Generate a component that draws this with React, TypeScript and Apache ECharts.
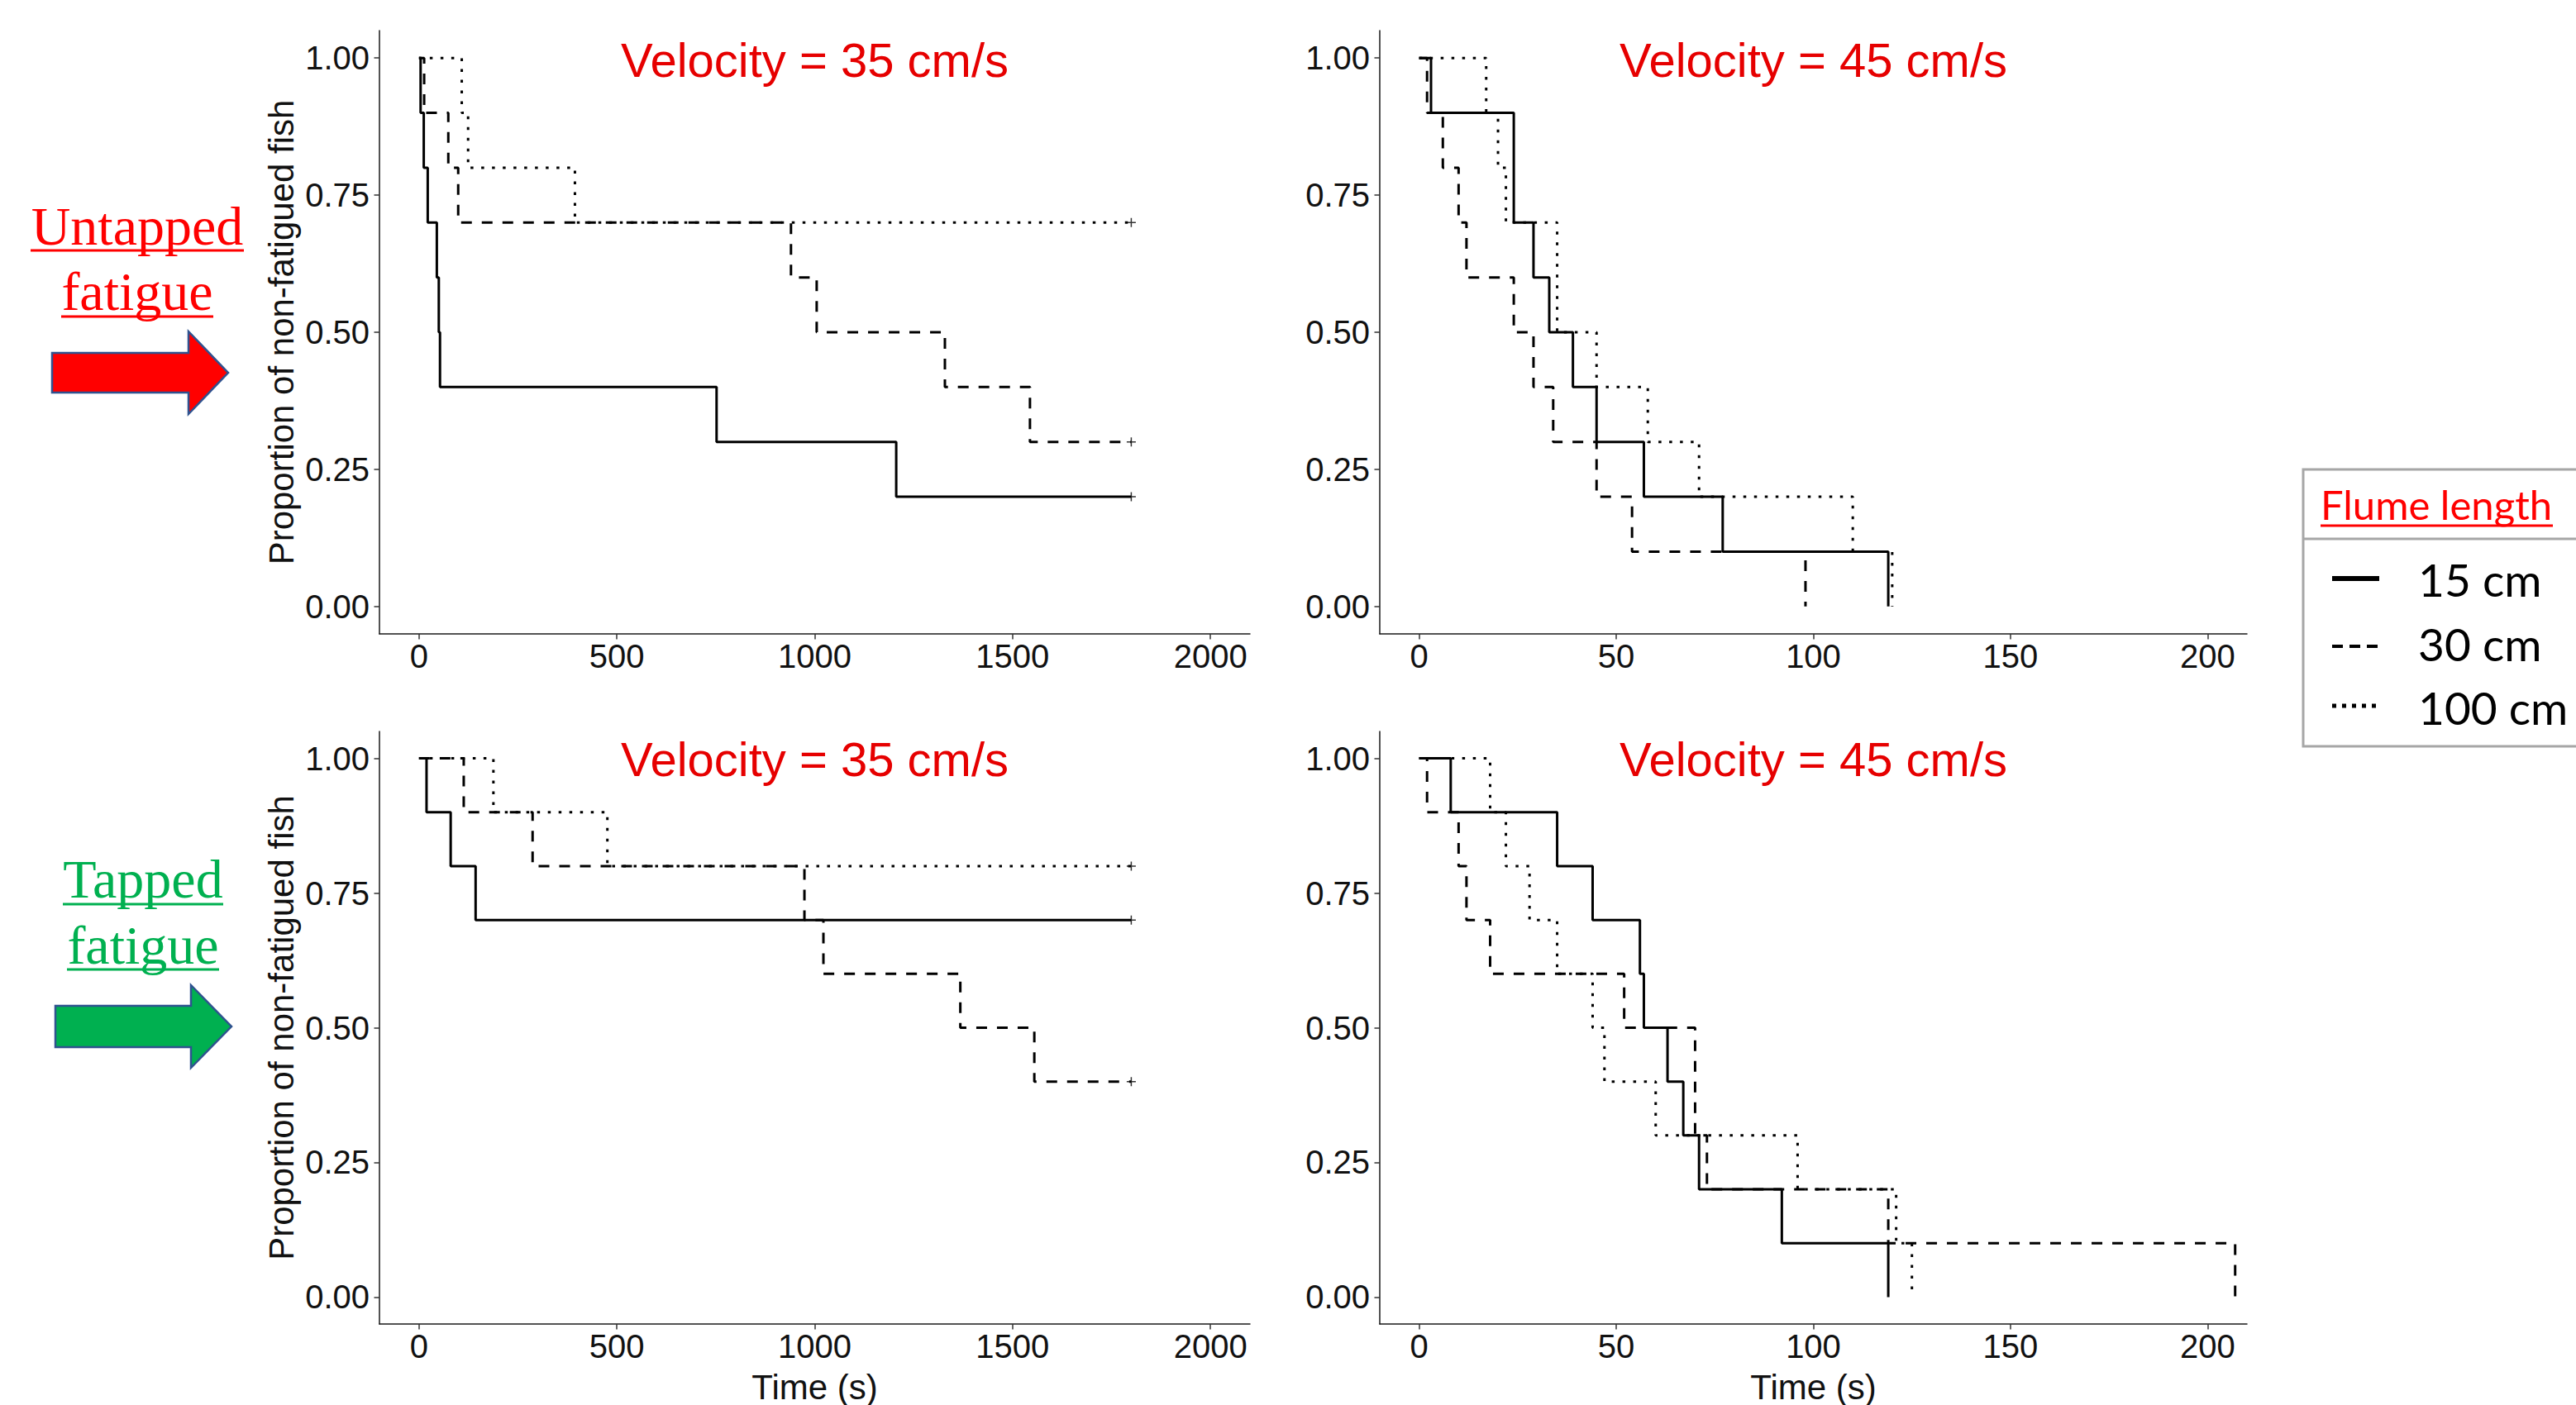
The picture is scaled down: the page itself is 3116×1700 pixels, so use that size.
import React, { useEffect, useRef } from "react";
import * as echarts from "echarts";

// ---------- DATA (Kaplan–Meier step points: time in s, proportion of non-fatigued fish) ----------
// Untapped fatigue, velocity 35 cm/s
const untapped35_15cm_time = [0, 4, 12, 22, 45, 50, 53, 752, 1206, 1800];
const untapped35_15cm_prop = [1, 0.9, 0.8, 0.7, 0.6, 0.5, 0.4, 0.3, 0.2, 0.2];
const untapped35_30cm_time = [0, 13, 74, 99, 940, 1005, 1329, 1544, 1800];
const untapped35_30cm_prop = [1, 0.9, 0.8, 0.7, 0.6, 0.5, 0.4, 0.3, 0.3];
const untapped35_100cm_time = [0, 108, 124, 394, 1800];
const untapped35_100cm_prop = [1, 0.9, 0.8, 0.7, 0.7];

// Untapped fatigue, velocity 45 cm/s
const untapped45_15cm_time = [0, 3, 24, 29, 33, 39, 45, 57, 77, 119];
const untapped45_15cm_prop = [1, 0.9, 0.7, 0.6, 0.5, 0.4, 0.3, 0.2, 0.1, 0];
const untapped45_30cm_time = [0, 2, 6, 10, 12, 24, 29, 34, 45, 54, 98];
const untapped45_30cm_prop = [1, 0.9, 0.8, 0.7, 0.6, 0.5, 0.4, 0.3, 0.2, 0.1, 0];
const untapped45_100cm_time = [0, 17, 20, 22, 35, 45, 58, 71, 110, 120];
const untapped45_100cm_prop = [1, 0.9, 0.8, 0.7, 0.5, 0.4, 0.3, 0.2, 0.1, 0];

// Tapped fatigue, velocity 35 cm/s
const tapped35_15cm_time = [0, 19, 80, 143, 1800];
const tapped35_15cm_prop = [1, 0.9, 0.8, 0.7, 0.7];
const tapped35_30cm_time = [0, 113, 287, 974, 1022, 1368, 1555, 1800];
const tapped35_30cm_prop = [1, 0.9, 0.8, 0.7, 0.6, 0.5, 0.4, 0.4];
const tapped35_100cm_time = [0, 188, 476, 1800];
const tapped35_100cm_prop = [1, 0.9, 0.8, 0.8];

// Tapped fatigue, velocity 45 cm/s
const tapped45_15cm_time = [0, 8, 35, 44, 56, 57, 63, 67, 71, 92, 119];
const tapped45_15cm_prop = [1, 0.9, 0.8, 0.7, 0.6, 0.5, 0.4, 0.3, 0.2, 0.1, 0];
const tapped45_30cm_time = [0, 2, 10, 12, 18, 52, 70, 73, 119, 207];
const tapped45_30cm_prop = [1, 0.9, 0.8, 0.7, 0.6, 0.5, 0.3, 0.2, 0.1, 0];
const tapped45_100cm_time = [0, 18, 22, 28, 35, 44, 47, 60, 96, 121, 125];
const tapped45_100cm_prop = [1, 0.9, 0.8, 0.7, 0.6, 0.5, 0.4, 0.3, 0.2, 0.1, 0];

// Tick labels
const xTicks35 = [0, 500, 1000, 1500, 2000];
const xTicks45 = [0, 50, 100, 150, 200];
const yTicks = [0, 0.25, 0.5, 0.75, 1];

// Legend / labels
const flumeLengths = ["15 cm", "30 cm", "100 cm"];
const panelTitles = ["Velocity = 35 cm/s", "Velocity = 45 cm/s", "Velocity = 35 cm/s", "Velocity = 45 cm/s"];
const yTitle = "Proportion of non-fatigued fish";
const xTitle = "Time (s)";

// ---------- STYLE / LAYOUT ----------
const SANS = "Liberation Sans";
const TITLE_RED = "#e60000";
const lineTypes: any = {
  "15 cm": { type: "solid", width: 3 },
  "30 cm": { type: [13, 12], width: 3 },
  "100 cm": { type: [3.5, 9.5], width: 3 },
};

type Curve = { label: string; time: number[]; prop: number[] };
const panels = [
  {
    grid: { left: 459, top: 37, width: 1053, height: 730 },
    xMin: -100, xMax: 2100, xTicks: xTicks35, showY: true, showX: false, censored: true, titleY: 72,
    curves: [
      { label: "100 cm", time: untapped35_100cm_time, prop: untapped35_100cm_prop },
      { label: "30 cm", time: untapped35_30cm_time, prop: untapped35_30cm_prop },
      { label: "15 cm", time: untapped35_15cm_time, prop: untapped35_15cm_prop },
    ] as Curve[],
  },
  {
    grid: { left: 1669, top: 37, width: 1049, height: 730 },
    xMin: -10, xMax: 210, xTicks: xTicks45, showY: false, showX: false, censored: false, titleY: 72,
    curves: [
      { label: "100 cm", time: untapped45_100cm_time, prop: untapped45_100cm_prop },
      { label: "30 cm", time: untapped45_30cm_time, prop: untapped45_30cm_prop },
      { label: "15 cm", time: untapped45_15cm_time, prop: untapped45_15cm_prop },
    ] as Curve[],
  },
  {
    grid: { left: 459, top: 885, width: 1053, height: 730 },
    xMin: -100, xMax: 2100, xTicks: xTicks35, showY: true, showX: true, censored: true, titleY: 918,
    curves: [
      { label: "100 cm", time: tapped35_100cm_time, prop: tapped35_100cm_prop },
      { label: "30 cm", time: tapped35_30cm_time, prop: tapped35_30cm_prop },
      { label: "15 cm", time: tapped35_15cm_time, prop: tapped35_15cm_prop },
    ] as Curve[],
  },
  {
    grid: { left: 1669, top: 885, width: 1049, height: 730 },
    xMin: -10, xMax: 210, xTicks: xTicks45, showY: false, showX: true, censored: false, titleY: 918,
    curves: [
      { label: "100 cm", time: tapped45_100cm_time, prop: tapped45_100cm_prop },
      { label: "30 cm", time: tapped45_30cm_time, prop: tapped45_30cm_prop },
      { label: "15 cm", time: tapped45_15cm_time, prop: tapped45_15cm_prop },
    ] as Curve[],
  },
];

function buildOption() {
  const grid = panels.map((p) => ({ ...p.grid, containLabel: false }));
  const axisLineStyle = { color: "#1a1a1a", width: 1.5 };
  const xAxis = panels.map((p, i) => ({
    type: "value",
    gridIndex: i,
    min: p.xMin,
    max: p.xMax,
    axisLine: { show: true, onZero: false, lineStyle: axisLineStyle },
    axisTick: { show: true, customValues: p.xTicks, length: 6.5, lineStyle: { color: "#333", width: 1.5 } },
    axisLabel: {
      customValues: p.xTicks,
      margin: 7,
      fontSize: 40,
      color: "#111",
      fontFamily: SANS,
      formatter: (v: number) => String(v),
    },
    splitLine: { show: false },
    name: p.showX ? xTitle : "",
    nameLocation: "middle",
    nameGap: 55,
    nameTextStyle: { fontSize: 42, color: "#111", fontFamily: SANS, verticalAlign: "top" },
  }));
  const yAxis = panels.map((p, i) => ({
    type: "value",
    gridIndex: i,
    min: -0.05,
    max: 1.05,
    axisLine: { show: true, onZero: false, lineStyle: axisLineStyle },
    axisTick: { show: true, customValues: yTicks, length: 6.5, lineStyle: { color: "#333", width: 1.5 } },
    axisLabel: {
      customValues: yTicks,
      margin: 12,
      fontSize: 40,
      color: "#111",
      fontFamily: SANS,
      formatter: (v: number) => v.toFixed(2),
    },
    splitLine: { show: false },
    name: p.showY ? yTitle : "",
    nameLocation: "middle",
    nameGap: 98,
    nameRotate: 90,
    nameTextStyle: { fontSize: 42, color: "#111", fontFamily: SANS },
  }));

  const series: any[] = [];
  panels.forEach((p, i) => {
    p.curves.forEach((c) => {
      const ls = lineTypes[c.label];
      series.push({
        type: "line",
        name: c.label,
        xAxisIndex: i,
        yAxisIndex: i,
        step: "end",
        symbol: "none",
        silent: true,
        data: c.time.map((t, k) => [t, c.prop[k]]),
        lineStyle: { color: "#000", width: ls.width, type: ls.type, cap: "butt" },
        z: 3,
      });
    });
    if (p.censored) {
      series.push({
        type: "scatter",
        xAxisIndex: i,
        yAxisIndex: i,
        symbol: "path://M5 0V10M0 5H10",
        symbolSize: 11,
        silent: true,
        data: p.curves.map((c) => [c.time[c.time.length - 1], c.prop[c.prop.length - 1]]),
        itemStyle: { color: "none", borderColor: "#000", borderWidth: 1.5 },
        z: 4,
      });
    }
  });

  const graphic: any[] = [];
  // panel titles
  panels.forEach((p, i) => {
    graphic.push({
      type: "text",
      x: p.grid.left + p.grid.width / 2,
      y: p.titleY,
      style: {
        text: panelTitles[i],
        fill: TITLE_RED,
        fontSize: 58,
        fontFamily: SANS,
        align: "center",
        verticalAlign: "middle",
      },
    });
  });

  // left annotations
  const serif = "Liberation Serif";
  const addLabel = (text: string, cx: number, cy: number, color: string, ux1: number, ux2: number, uy: number) => {
    graphic.push({
      type: "text",
      x: cx,
      y: cy,
      style: { text, fill: color, fontSize: 66, fontFamily: serif, align: "center", verticalAlign: "middle" },
    });
    graphic.push({
      type: "line",
      shape: { x1: ux1, y1: uy, x2: ux2, y2: uy },
      style: { stroke: color, lineWidth: 3 },
    });
  };
  addLabel("Untapped", 166, 273, "#ff0000", 37, 295, 303);
  addLabel("fatigue", 166, 352, "#ff0000", 74, 258, 383);
  addLabel("Tapped", 173, 1063, "#00b050", 76, 270, 1094);
  addLabel("fatigue", 173, 1143, "#00b050", 81, 265, 1173);

  const arrow = (x0: number, xb: number, xt: number, yc: number, hb: number, hh: number, fill: string) => ({
    type: "polygon",
    shape: {
      points: [
        [x0, yc - hb],
        [xb, yc - hb],
        [xb, yc - hh],
        [xt, yc],
        [xb, yc + hh],
        [xb, yc + hb],
        [x0, yc + hb],
      ],
    },
    style: { fill, stroke: "#2f528f", lineWidth: 2.5 },
  });
  graphic.push(arrow(63, 228, 276, 451, 24, 50, "#ff0000"));
  graphic.push(arrow(67, 231, 280, 1242, 25, 50, "#00b050"));

  // legend box
  graphic.push({
    type: "rect",
    shape: { x: 2786, y: 568, width: 360, height: 335 },
    style: { fill: "#ffffff", stroke: "#a6a6a6", lineWidth: 3 },
  });
  graphic.push({
    type: "line",
    shape: { x1: 2786, y1: 652, x2: 3116, y2: 652 },
    style: { stroke: "#a6a6a6", lineWidth: 3 },
  });
  graphic.push({
    type: "text",
    x: 2807,
    y: 610,
    style: { text: "Flume length", fill: "#ff0000", fontSize: 49, fontFamily: "Lato", align: "left", verticalAlign: "middle" },
  });
  graphic.push({
    type: "line",
    shape: { x1: 2807, y1: 636, x2: 3088, y2: 636 },
    style: { stroke: "#ff0000", lineWidth: 3 },
  });
  const legendY = [701, 779, 856];
  const sampleY = [700, 782, 854];
  const sampleStyles = [
    { lineWidth: 6, lineDash: null },
    { lineWidth: 4, lineDash: [13, 8] },
    { lineWidth: 5, lineDash: [5, 7] },
  ];
  flumeLengths.forEach((lab, k) => {
    graphic.push({
      type: "line",
      shape: { x1: 2821, y1: sampleY[k], x2: 2878, y2: sampleY[k] },
      style: { stroke: "#000", lineWidth: sampleStyles[k].lineWidth, lineDash: sampleStyles[k].lineDash },
    });
    graphic.push({
      type: "text",
      x: 2925,
      y: legendY[k],
      style: { text: lab, fill: "#000", fontSize: 55, fontFamily: "Lato", align: "left", verticalAlign: "middle" },
    });
  });

  return {
    animation: false,
    backgroundColor: "#ffffff",
    grid,
    xAxis,
    yAxis,
    series,
    graphic,
  };
}

export default function App() {
  const ref = useRef<HTMLDivElement>(null);
  useEffect(() => {
    if (!ref.current) return;
    const chart = echarts.init(ref.current, null, { renderer: "svg" });
    chart.setOption(buildOption() as any);
    return () => chart.dispose();
  }, []);
  return (
    <div
      ref={ref}
      style={{ position: "absolute", left: 0, top: 0, width: 3116, height: 1700, background: "#fff" }}
    />
  );
}
